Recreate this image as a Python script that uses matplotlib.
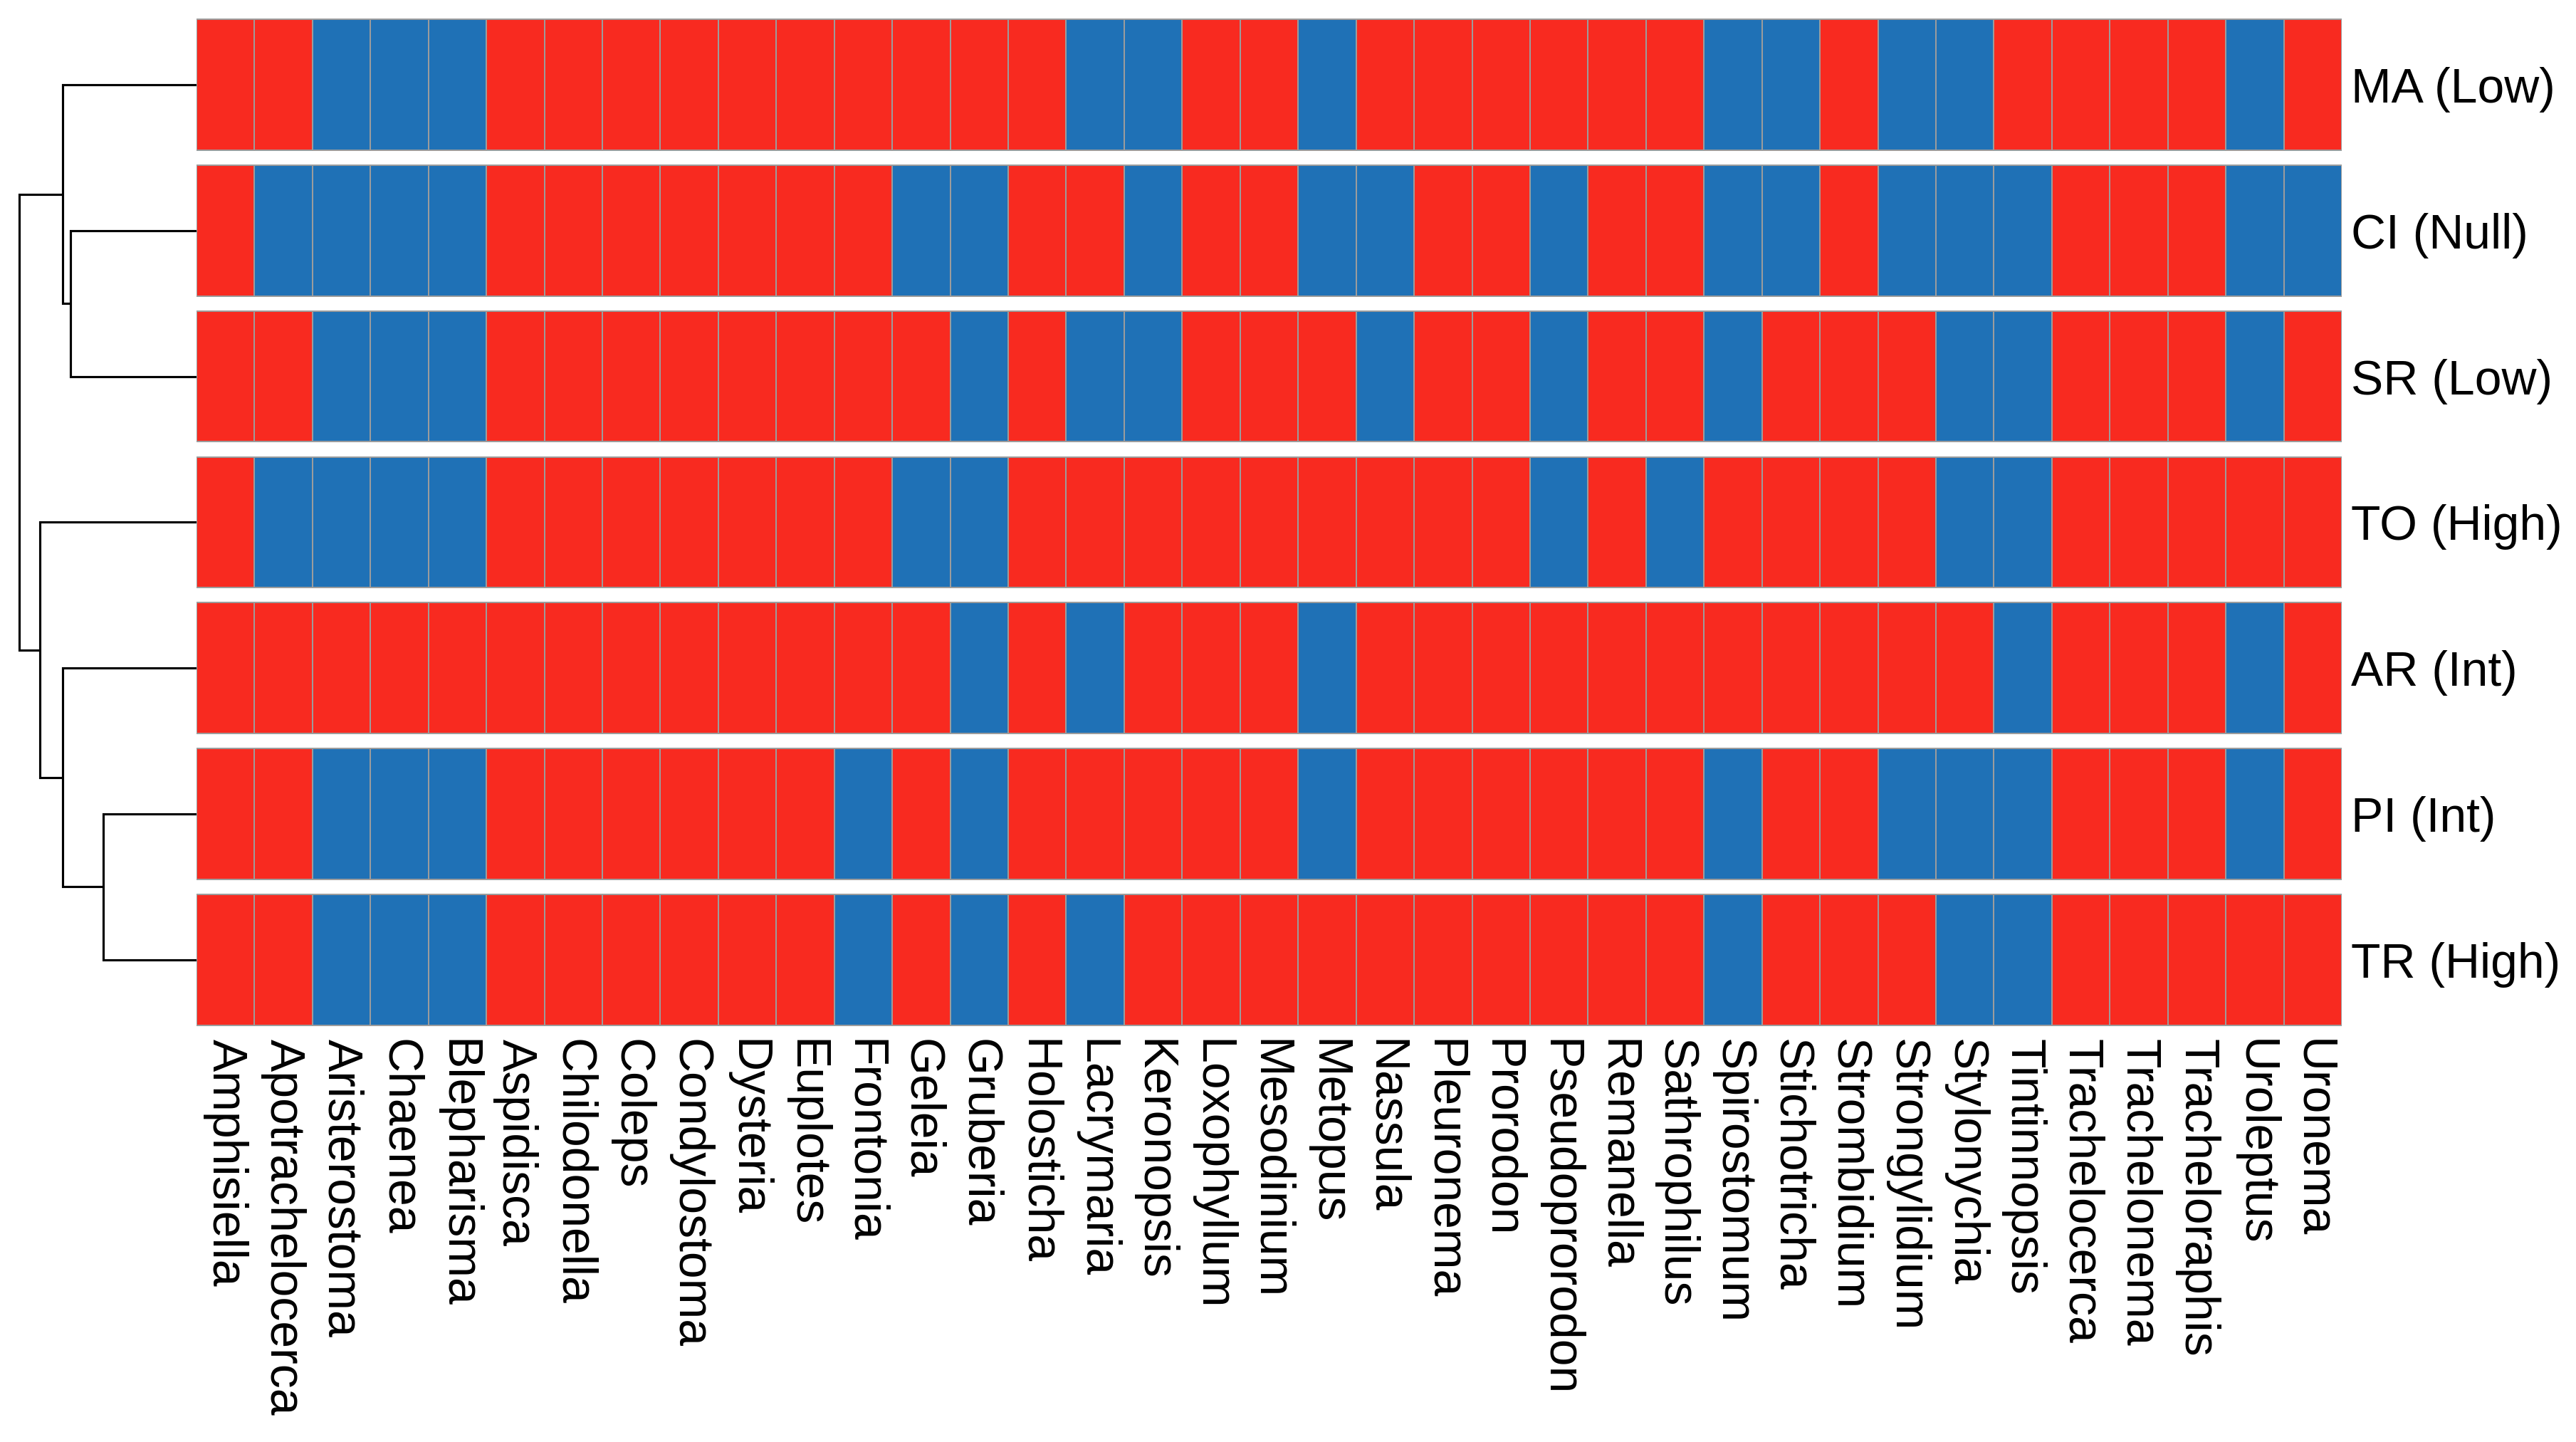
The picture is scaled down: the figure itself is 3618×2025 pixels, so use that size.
import matplotlib
matplotlib.use("Agg")
import matplotlib.pyplot as plt
from matplotlib.colors import ListedColormap
import numpy as np

plt.rcParams['font.family'] = ['Liberation Sans', 'DejaVu Sans']

genera = ["Amphisiella", "Apotrachelocerca", "Aristerostoma", "Chaenea", "Blepharisma",
          "Aspidisca", "Chilodonella", "Coleps", "Condylostoma", "Dysteria", "Euplotes",
          "Frontonia", "Geleia", "Gruberia", "Holosticha", "Lacrymaria", "Keronopsis",
          "Loxophyllum", "Mesodinium", "Metopus", "Nassula", "Pleuronema", "Prorodon",
          "Pseudoprorodon", "Remanella", "Sathrophilus", "Spirostomum", "Stichotricha",
          "Strombidium", "Strongylidium", "Stylonychia", "Tintinnopsis", "Trachelocerca",
          "Trachelonema", "Tracheloraphis", "Uroleptus", "Uronema"]

sites = ["MA (Low)", "CI (Null)", "SR (Low)", "TO (High)", "AR (Int)", "PI (Int)", "TR (High)"]

# 1 = present (red), 0 = absent (blue)
MA = [1,1,0,0,0,1,1,1,1,1,1,1,1,1,1,0,0,1,1,0,1,1,1,1,1,1,0,0,1,0,0,1,1,1,1,0,1]
CI = [1,0,0,0,0,1,1,1,1,1,1,1,0,0,1,1,0,1,1,0,0,1,1,0,1,1,0,0,1,0,0,0,1,1,1,0,0]
SR = [1,1,0,0,0,1,1,1,1,1,1,1,1,0,1,0,0,1,1,1,0,1,1,0,1,1,0,1,1,1,0,0,1,1,1,0,1]
TO = [1,0,0,0,0,1,1,1,1,1,1,1,0,0,1,1,1,1,1,1,1,1,1,0,1,0,1,1,1,1,0,0,1,1,1,1,1]
AR = [1,1,1,1,1,1,1,1,1,1,1,1,1,0,1,0,1,1,1,0,1,1,1,1,1,1,1,1,1,1,1,0,1,1,1,0,1]
PI = [1,1,0,0,0,1,1,1,1,1,1,0,1,0,1,1,1,1,1,0,1,1,1,1,1,1,0,1,1,0,0,0,1,1,1,0,1]
TR = [1,1,0,0,0,1,1,1,1,1,1,0,1,0,1,0,1,1,1,1,1,1,1,1,1,1,0,1,1,1,0,0,1,1,1,1,1]
rows = [MA, CI, SR, TO, AR, PI, TR]

# dendrogram merges: (left, right, height); leaves 0..6 in row order, new nodes from 7
merges = [(1, 2, 1.77),   # 7: CI + SR
          (0, 7, 1.88),   # 8: MA + (CI,SR)
          (5, 6, 1.31),   # 9: PI + TR
          (4, 9, 1.88),   # 10: AR + (PI,TR)
          (3, 10, 2.20),  # 11: TO + ...
          (8, 11, 2.49)]  # 12: root

RED = "#F82A20"
BLUE = "#1F71B6"
EDGE = "#9C9C9C"

W, H, DPI = 3618, 2025, 300
fig = plt.figure(figsize=(W / DPI, H / DPI), dpi=DPI)

pitch = 204.8
top_px = 119 - pitch / 2
left_px, right_px = 276, 3289
ax_bottom = 1 - (top_px + pitch * 7) / H
ax_h = pitch * 7 / H

ax = fig.add_axes([left_px / W, ax_bottom, (right_px - left_px) / W, ax_h])
cmap = ListedColormap([BLUE, RED])
half = 0.448
xe = np.arange(len(genera) + 1) - 0.5
for i, r in enumerate(rows):
    ax.pcolormesh(xe, [i - half, i + half], np.array([r]), cmap=cmap, vmin=0, vmax=1,
                  edgecolors=EDGE, linewidth=0.45)
ax.set_xlim(-0.5, len(genera) - 0.5)
ax.set_ylim(len(sites) - 0.5, -0.5)
ax.set_xticks(range(len(genera)))
ax.set_xticklabels(genera, rotation=270, fontsize=16.3, ha='center', va='top')
ax.set_yticks(range(len(sites)))
ax.set_yticklabels(sites, fontsize=16.3)
ax.yaxis.tick_right()
ax.tick_params(length=0, axis='x', pad=2)
ax.tick_params(length=0, axis='y', pad=3)
for s in ax.spines.values():
    s.set_visible(False)

# dendrogram
dax = fig.add_axes([0, ax_bottom, left_px / W, ax_h])
pos = {i: (float(i), 0.0) for i in range(len(sites))}
nid = len(sites)
for a, b, h in merges:
    ya, ha_ = pos[a]
    yb, hb = pos[b]
    dax.plot([ha_, h, h, hb], [ya, ya, yb, yb], color='black', lw=0.75,
             solid_joinstyle='miter', solid_capstyle='butt')
    pos[nid] = ((ya + yb) / 2, h)
    nid += 1
dax.set_ylim(len(sites) - 0.5, -0.5)
dax.set_xlim(max(m[2] for m in merges) * 276 / 249, 0)
dax.axis('off')

fig.savefig("out.png", dpi=DPI, facecolor='white')
